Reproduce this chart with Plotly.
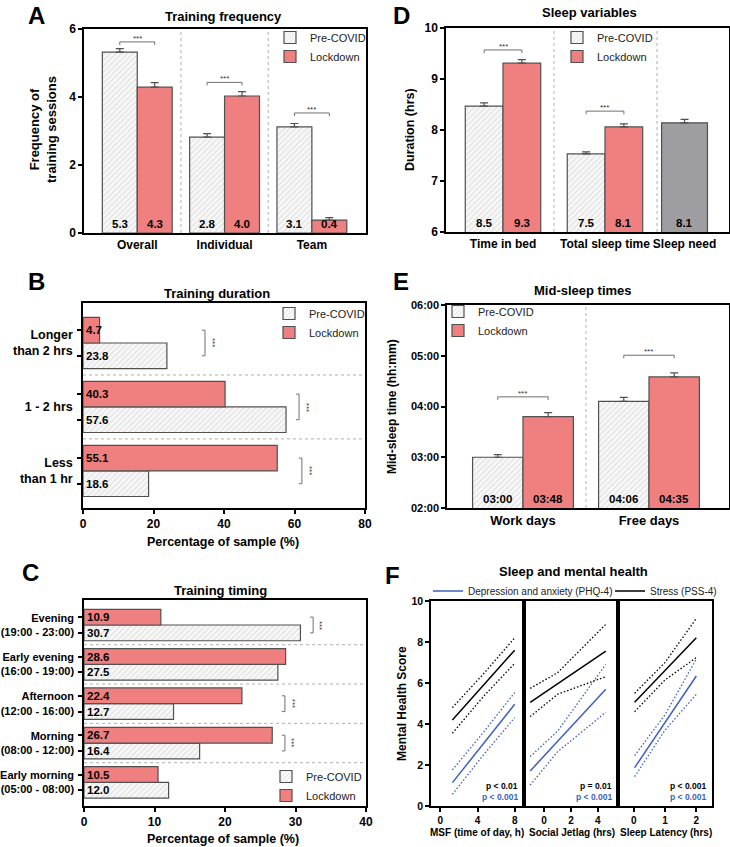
import plotly.graph_objects as go

W, H = 730, 847

# ---------------- data ----------------
A_categories = ["Overall", "Individual", "Team"]
A_pre = [5.32, 2.82, 3.12]
A_lock = [4.29, 4.03, 0.38]
A_pre_err = [0.10, 0.10, 0.10]
A_lock_err = [0.13, 0.13, 0.07]
A_sig_y = [5.62, 4.43, 3.53]

B_categories = ["Longer<br>than 2 hrs", "1 - 2 hrs", "Less<br>than 1 hr"]
B_pre = [23.8, 57.6, 18.6]
B_lock = [4.7, 40.3, 55.1]
B_sig_x = [34.6, 61.3, 62.1]

C_categories = ["Evening<br>(19:00 - 23:00)", "Early evening<br>(16:00 - 19:00)",
                "Afternoon<br>(12:00 - 16:00)", "Morning<br>(08:00 - 12:00)",
                "Early morning<br>(05:00 - 08:00)"]
C_pre = [30.7, 27.5, 12.7, 16.4, 12.0]
C_lock = [10.9, 28.6, 22.4, 26.7, 10.5]
C_sig_x = [32.5, None, 28.5, 28.5, None]

D_categories = ["Time in bed", "Total sleep time", "Sleep need"]
D_pre = [8.47, 7.53]
D_lock = [9.31, 8.06]
D_need = [8.14]
D_pre_err = [0.06, 0.04]
D_lock_err = [0.07, 0.06]
D_need_err = [0.07]
D_sig_y = [9.57, 8.37]

E_categories = ["Work days", "Free days"]
E_pre = [3.0, 4.1]          # hours after midnight
E_lock = [3.8, 4.5833]
E_pre_err = [0.05, 0.08]
E_lock_err = [0.08, 0.08]
E_sig_y = [4.19, 5.01]
E_ticks = [2, 3, 4, 5, 6]

F_xtitles = ["MSF (time of day, h)", "Social Jetlag (hrs)", "Sleep Latency (hrs)"]
F_ticks = [[0, 4, 8], [0, 2, 4], [0, 1, 2]]
F_x = [[1.3, 4.65, 8.0], [-1.04, 1.0, 4.59], [0.03, 1.0, 2.0]]
F_stress = [[4.2, 5.9, 7.6], [5.06, 5.97, 7.56], [5.06, 6.6, 8.21]]
F_stress_hi = [[4.8, 6.45, 8.2], [5.74, 6.5, 8.86], [5.5, 7.0, 9.15]]
F_stress_lo = [[3.55, 5.35, 6.96], [4.36, 5.45, 6.31], [4.6, 6.15, 7.24]]
F_dep = [[1.14, 3.05, 4.96], [1.71, 3.15, 5.69], [1.87, 4.07, 6.34]]
F_dep_hi = [[1.76, 3.6, 5.53], [2.41, 3.65, 6.91], [2.46, 4.45, 7.17]]
F_dep_lo = [[0.57, 2.5, 4.31], [1.02, 2.65, 4.57], [1.43, 3.7, 5.45]]
F_p_stress = ["p < 0.01", "p = 0.01", "p < 0.001"]
F_p_dep = ["p < 0.001", "p < 0.001", "p < 0.001"]

# ---------------- styles / layout constants ----------------
FONT = "Liberation Sans, Arial, sans-serif"
RED = "#F08080"
BLUE = "#3F5FBF"
EDGE = "#505050"
SIG = "#707070"
HATCH = dict(shape="/", fgcolor="#c0c0c0", bgcolor="#f8f8f8", size=4, solidity=0.25)
OFF, BW = 0.2, 0.4


def fx(p):
    return p / W


def fy(p):
    return 1 - p / H


def pre_marker():
    return dict(color="#f8f8f8", line=dict(color=EDGE, width=1.2), pattern=HATCH)


def lock_marker():
    return dict(color=RED, line=dict(color=EDGE, width=1.2))


def err(arr):
    return dict(type="data", array=arr, arrayminus=[0] * len(arr), symmetric=False,
                color=EDGE, thickness=1.2, width=4)


def axis(xdom, rng, anchor, **kw):
    d = dict(domain=xdom, range=rng, anchor=anchor, showline=True, linecolor="black",
             linewidth=1.5, mirror=True, ticks="outside", ticklen=4, tickwidth=1.5,
             tickcolor="black", showgrid=False, zeroline=False, fixedrange=True, tickangle=0,
             automargin=False,
             tickfont=dict(family=FONT, size=12, color="black", weight="bold"))
    d.update(kw)
    return d


fig = go.Figure()
ann = []
shapes = []


def text(t, x, y, size=12, bold=True, angle=0, color="black", xa="center", ya="middle"):
    ann.append(dict(text=t, x=fx(x), y=fy(y), xref="paper", yref="paper", showarrow=False,
                    textangle=angle, xanchor=xa, yanchor=ya,
                    font=dict(family=FONT, size=size, color=color,
                              weight="bold" if bold else "normal")))


def vsep(xref, yref, v):
    shapes.append(dict(type="line", xref=xref, yref=yref + " domain", x0=v, x1=v, y0=0, y1=1,
                       line=dict(color="#b0b0b0", width=1, dash="dot")))


def hsep(xref, yref, v):
    shapes.append(dict(type="line", xref=xref + " domain", yref=yref, x0=0, x1=1, y0=v, y1=v,
                       line=dict(color="#b0b0b0", width=1, dash="dot")))


def vbracket(xa, ya, x0, x1, y, d):
    fig.add_trace(go.Scatter(x=[x0, x0, x1, x1], y=[y - d, y, y, y - d], mode="lines",
                             line=dict(color=SIG, width=1), xaxis=xa, yaxis=ya,
                             showlegend=False, hoverinfo="skip"))
    ann.append(dict(text="***", x=(x0 + x1) / 2, y=y, xref=xa, yref=ya, showarrow=False,
                    yanchor="bottom", yshift=-3, font=dict(family=FONT, size=8, color="#333")))


def hbracket(xa, ya, y0, y1, x, d):
    fig.add_trace(go.Scatter(x=[x - d, x, x, x - d], y=[y0, y0, y1, y1], mode="lines",
                             line=dict(color=SIG, width=1), xaxis=xa, yaxis=ya,
                             showlegend=False, hoverinfo="skip"))
    ann.append(dict(text="***", x=x, y=(y0 + y1) / 2, xref=xa, yref=ya, showarrow=False,
                    textangle=90, xshift=7, font=dict(family=FONT, size=8, color="#333")))


def vlabels(xa, ya, xs, vals, base, fmt):
    for x, v in zip(xs, vals):
        ann.append(dict(text=fmt(v), x=x, y=base, xref=xa, yref=ya, showarrow=False,
                        yanchor="bottom", yshift=1,
                        font=dict(family=FONT, size=11.5, color="black", weight="bold")))


def hlabels(xa, ya, ys, vals):
    for y, v in zip(ys, vals):
        ann.append(dict(text=f"{v:.1f}", x=0, y=y, xref=xa, yref=ya, showarrow=False,
                        xanchor="left", xshift=1,
                        font=dict(family=FONT, size=11.5, color="black", weight="bold")))


f1 = lambda v: f"{v:.1f}"

# ---------------- Panel A ----------------
A_pos = list(range(len(A_categories)))
xa, ya = "x", "y"
fig.add_trace(go.Bar(x=[p - OFF for p in A_pos], y=A_pre, width=BW, marker=pre_marker(),
                     name="Pre-COVID", legend="legend", xaxis=xa, yaxis=ya, error_y=err(A_pre_err)))
fig.add_trace(go.Bar(x=[p + OFF for p in A_pos], y=A_lock, width=BW, marker=lock_marker(),
                     name="Lockdown", legend="legend", xaxis=xa, yaxis=ya, error_y=err(A_lock_err)))
for p, s in zip(A_pos, A_sig_y):
    vbracket(xa, ya, p - OFF, p + OFF, s, 0.09)
vlabels(xa, ya, [p - OFF for p in A_pos], A_pre, 0, f1)
vlabels(xa, ya, [p + OFF for p in A_pos], A_lock, 0, f1)
for p in A_pos[:-1]:
    vsep(xa, ya, p + 0.5)

# ---------------- Panel B ----------------
B_pos = list(range(len(B_categories)))
xa, ya = "x2", "y2"
fig.add_trace(go.Bar(y=[p + OFF for p in B_pos], x=B_pre, width=BW, orientation="h",
                     marker=pre_marker(), name="Pre-COVID", legend="legend2", xaxis=xa, yaxis=ya))
fig.add_trace(go.Bar(y=[p - OFF for p in B_pos], x=B_lock, width=BW, orientation="h",
                     marker=lock_marker(), name="Lockdown", legend="legend2", xaxis=xa, yaxis=ya))
for p, s in zip(B_pos, B_sig_x):
    hbracket(xa, ya, p - OFF, p + OFF, s, 0.85)
hlabels(xa, ya, [p + OFF for p in B_pos], B_pre)
hlabels(xa, ya, [p - OFF for p in B_pos], B_lock)
for p in B_pos[:-1]:
    hsep(xa, ya, p + 0.5)

# ---------------- Panel C ----------------
C_pos = list(range(len(C_categories)))
xa, ya = "x3", "y3"
fig.add_trace(go.Bar(y=[p + OFF for p in C_pos], x=C_pre, width=BW, orientation="h",
                     marker=pre_marker(), name="Pre-COVID", legend="legend3", xaxis=xa, yaxis=ya))
fig.add_trace(go.Bar(y=[p - OFF for p in C_pos], x=C_lock, width=BW, orientation="h",
                     marker=lock_marker(), name="Lockdown", legend="legend3", xaxis=xa, yaxis=ya))
for p, s in zip(C_pos, C_sig_x):
    if s is not None:
        hbracket(xa, ya, p - OFF, p + OFF, s, 0.43)
hlabels(xa, ya, [p + OFF for p in C_pos], C_pre)
hlabels(xa, ya, [p - OFF for p in C_pos], C_lock)
for p in C_pos[:-1]:
    hsep(xa, ya, p + 0.5)

# ---------------- Panel D ----------------
D_pos = [0, 1, 1.78]
D_OFF, D_BW, D_BW_NEED = 0.185, 0.37, 0.45
xa, ya = "x4", "y4"
fig.add_trace(go.Bar(x=[p - D_OFF for p in D_pos[:2]], y=D_pre, width=D_BW, marker=pre_marker(),
                     name="Pre-COVID", legend="legend4", xaxis=xa, yaxis=ya, error_y=err(D_pre_err)))
fig.add_trace(go.Bar(x=[p + D_OFF for p in D_pos[:2]], y=D_lock, width=D_BW, marker=lock_marker(),
                     name="Lockdown", legend="legend4", xaxis=xa, yaxis=ya, error_y=err(D_lock_err)))
fig.add_trace(go.Bar(x=D_pos[2:], y=D_need, width=D_BW_NEED,
                     marker=dict(color="#9e9ea2", line=dict(color=EDGE, width=1.2)),
                     showlegend=False, xaxis=xa, yaxis=ya, error_y=err(D_need_err)))
for p, s in zip(D_pos[:2], D_sig_y):
    vbracket(xa, ya, p - D_OFF, p + D_OFF, s, 0.06)
vlabels(xa, ya, [p - D_OFF for p in D_pos[:2]], D_pre, 6, f1)
vlabels(xa, ya, [p + D_OFF for p in D_pos[:2]], D_lock, 6, f1)
vlabels(xa, ya, D_pos[2:], D_need, 6, f1)
vsep(xa, ya, 0.5)
vsep(xa, ya, 1.51)

# ---------------- Panel E ----------------
E_pos = list(range(len(E_categories)))
hhmm = lambda v: f"{int(v):02d}:{int(round((v - int(v)) * 60)):02d}"
xa, ya = "x5", "y5"
fig.add_trace(go.Bar(x=[p - OFF for p in E_pos], y=E_pre, width=BW, marker=pre_marker(),
                     name="Pre-COVID", legend="legend5", xaxis=xa, yaxis=ya, error_y=err(E_pre_err)))
fig.add_trace(go.Bar(x=[p + OFF for p in E_pos], y=E_lock, width=BW, marker=lock_marker(),
                     name="Lockdown", legend="legend5", xaxis=xa, yaxis=ya, error_y=err(E_lock_err)))
for p, s in zip(E_pos, E_sig_y):
    vbracket(xa, ya, p - OFF, p + OFF, s, 0.06)
vlabels(xa, ya, [p - OFF for p in E_pos], E_pre, 2, hhmm)
vlabels(xa, ya, [p + OFF for p in E_pos], E_lock, 2, hhmm)
vsep(xa, ya, 0.5)

# ---------------- Panel F ----------------
for i in range(3):
    xa, ya = f"x{6 + i}", f"y{6 + i}"
    xs = F_x[i]
    for ys, col, dash, name, leg in [
        (F_stress_hi[i], "black", "1.5px,2px", None, None),
        (F_stress_lo[i], "black", "1.5px,2px", None, None),
        (F_dep_hi[i], BLUE, "1.5px,2px", None, None),
        (F_dep_lo[i], BLUE, "1.5px,2px", None, None),
        (F_dep[i], BLUE, "solid", "Depression and anxiety (PHQ-4)", "legend6"),
        (F_stress[i], "black", "solid", "Stress (PSS-4)", "legend7"),
    ]:
        fig.add_trace(go.Scatter(x=xs, y=ys, mode="lines", name=name or "",
                                 line=dict(color=col, width=1.5 if dash == "solid" else 1.3, dash=dash),
                                 showlegend=(leg is not None and i == 0), legend=leg or "legend6",
                                 xaxis=xa, yaxis=ya, hoverinfo="skip"))
    ann.append(dict(text=F_p_stress[i], x=0.96, y=0.1, xref=f"{xa} domain", yref=f"{ya} domain",
                    xanchor="right", yanchor="middle", showarrow=False,
                    font=dict(family=FONT, size=8.5, color="black", weight="bold")))
    ann.append(dict(text=F_p_dep[i], x=0.96, y=0.045, xref=f"{xa} domain", yref=f"{ya} domain",
                    xanchor="right", yanchor="middle", showarrow=False,
                    font=dict(family=FONT, size=8.5, color=BLUE, weight="bold")))

# ---------------- texts ----------------
for letter, x, y in [("A", 36, 0), ("D", 401, 0)]:
    text(letter, x, y, size=24, ya="top")
for letter, x, y in [("B", 36, 281), ("C", 30, 572), ("E", 401, 281), ("F", 393, 575)]:
    text(letter, x, y, size=24)
for t, x, y in [("Training frequency", 223, 16), ("Training duration", 217, 293),
                ("Training timing", 220, 590), ("Sleep variables", 589, 13),
                ("Mid-sleep times", 583, 290), ("Sleep and mental health", 573, 571)]:
    text(t, x, y, size=13)
text("Frequency of<br>training sessions", 43, 130, size=13, angle=-90)
text("Percentage of sample (%)", 223, 542, size=12.5)
text("Percentage of sample (%)", 223, 839, size=12.5)
text("Duration (hrs)", 410, 130, size=12.5, angle=-90)
text("Mid-sleep time (hh:mm)", 392, 407, size=12, angle=-90)
text("Mental Health Score", 402, 703, size=12, angle=-90)
for t, x in zip(F_xtitles, [477, 572, 666]):
    text(t, x, 832, size=10)

# ---------------- layout ----------------
LEG = dict(bgcolor="rgba(0,0,0,0)", font=dict(family=FONT, size=11, color="#222"),
           xanchor="left", yanchor="top", itemwidth=30, tracegroupgap=0,
           xref="container", yref="container")
LEGF = dict(bgcolor="rgba(0,0,0,0)", font=dict(family=FONT, size=10, color="#222"),
            orientation="h", xanchor="left", yanchor="middle", itemwidth=30,
            xref="container", yref="container")

B_minor = dict(tickmode="array", tickvals=[p - OFF for p in B_pos] + [p + OFF for p in B_pos],
               ticks="outside", ticklen=4, tickwidth=1.5, tickcolor="black")
C_minor = dict(tickmode="array", tickvals=[p - OFF for p in C_pos] + [p + OFF for p in C_pos],
               ticks="outside", ticklen=4, tickwidth=1.5, tickcolor="black")
catfont = dict(family=FONT, size=12, color="black", weight="bold")

fig.update_layout(
    width=W, height=H, margin=dict(l=0, r=0, t=0, b=0, autoexpand=False), autosize=False,
    paper_bgcolor="white", plot_bgcolor="white", barmode="overlay",
    font=dict(family=FONT, color="black"),
    # A
    xaxis=axis([fx(84), fx(366)], [-0.61, 2.62], "y", tickvals=A_pos, ticktext=A_categories,
               ticks="", tickfont=catfont),
    yaxis=axis([fy(233), fy(29)], [0, 6], "x", tickvals=[0, 2, 4, 6]),
    # B
    xaxis2=axis([fx(83), fx(365)], [0, 80], "y2", tickvals=[0, 20, 40, 60, 80]),
    yaxis2=axis([fy(508), fy(303)], [2.58, -0.625], "x2", tickvals=B_pos, ticktext=B_categories,
                ticks="", minor=B_minor, ticklabelstandoff=6,
                tickfont=dict(family=FONT, size=12.5, color="black", weight="bold")),
    # C
    xaxis3=axis([fx(84), fx(366)], [0, 40], "y3", tickvals=[0, 10, 20, 30, 40]),
    yaxis3=axis([fy(806), fy(600)], [4.6, -0.636], "x3", tickvals=C_pos, ticktext=C_categories,
                ticks="", minor=C_minor, ticklabelstandoff=6,
                tickfont=dict(family=FONT, size=11, color="black", weight="bold")),
    # D
    xaxis4=axis([fx(446), fx(729)], [-0.559, 2.216], "y4", tickvals=D_pos, ticktext=D_categories,
                ticks="", tickfont=catfont),
    yaxis4=axis([fy(232), fy(28)], [6, 10], "x4", tickvals=[6, 7, 8, 9, 10]),
    # E
    xaxis5=axis([fx(447), fx(729)], [-0.603, 1.635], "y5", tickvals=E_pos, ticktext=E_categories,
                ticks="", tickfont=dict(family=FONT, size=13, color="black", weight="bold")),
    yaxis5=axis([fy(508), fy(305)], [2, 6], "x5", tickvals=E_ticks,
                ticktext=[f"{t:02d}:00" for t in E_ticks],
                tickfont=dict(family=FONT, size=11, color="black", weight="bold")),
    # F
    xaxis6=axis([fx(431), fx(524)], [-1, 9], "y6", tickvals=F_ticks[0],
                tickfont=dict(family=FONT, size=10, color="black", weight="bold")),
    yaxis6=axis([fy(806), fy(601)], [0, 10], "x6", tickvals=[0, 2, 4, 6, 8, 10],
                tickfont=dict(family=FONT, size=10.5, color="black", weight="bold")),
    xaxis7=axis([fx(524), fx(618)], [-1.5, 5.5], "y7", tickvals=F_ticks[1],
                tickfont=dict(family=FONT, size=10, color="black", weight="bold")),
    yaxis7=axis([fy(806), fy(601)], [0, 10], "x7", showticklabels=False, ticks=""),
    xaxis8=axis([fx(618), fx(712)], [-0.5, 2.5], "y8", tickvals=F_ticks[2],
                tickfont=dict(family=FONT, size=10, color="black", weight="bold")),
    yaxis8=axis([fy(806), fy(601)], [0, 10], "x8", showticklabels=False, ticks=""),
    legend=dict(LEG, x=fx(270), y=fy(23)),
    legend2=dict(LEG, x=fx(269), y=fy(299)),
    legend3=dict(LEG, x=fx(266), y=fy(762)),
    legend4=dict(LEG, x=fx(557), y=fy(23)),
    legend5=dict(LEG, x=fx(438), y=fy(297)),
    legend6=dict(LEGF, x=fx(428), y=fy(591)),
    legend7=dict(LEGF, x=fx(610), y=fy(591)),
    annotations=ann,
    shapes=shapes,
)

fig.write_html("out.html", config={"displayModeBar": False},
               post_script="document.body.style.margin='0px';document.body.style.overflow='hidden';")
